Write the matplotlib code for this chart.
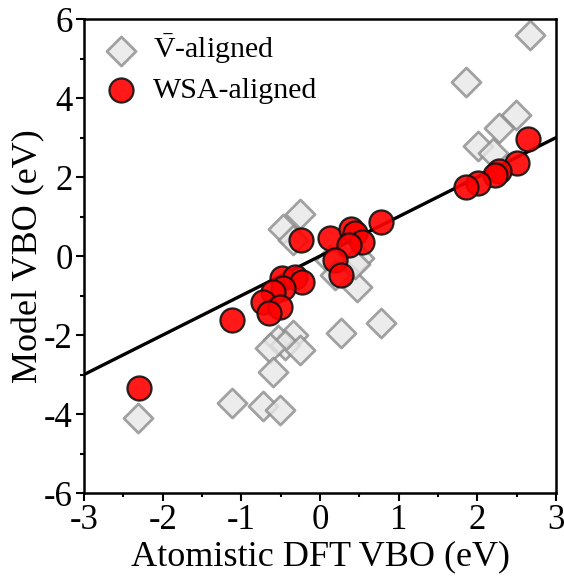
import numpy as np
import matplotlib.pyplot as plt

plt.rcParams['font.family'] = ['Liberation Serif', 'DejaVu Serif']
plt.rcParams['mathtext.fontset'] = 'custom'
plt.rcParams['mathtext.rm'] = 'Liberation Serif'

# V-bar aligned (grey diamonds)
vbar_x = [2.67, 1.86, 2.49, 2.27, 2.01, 2.20,
          -0.47, -0.25, -0.35, 0.13, 0.50, 0.19, 0.47, 0.45,
          0.27, -0.35, -0.53, -0.44, -0.64, -0.25, -0.60, -0.72, -0.51, -1.12, -2.31, 0.78]
vbar_y = [5.59, 4.41, 3.57, 3.24, 2.78, 2.60,
          0.68, 1.06, 0.40, -0.10, -0.05, -0.48, -0.78, -0.20,
          -1.95, -2.00, -2.12, -2.25, -2.33, -2.38, -2.94, -3.80, -3.90, -3.72, -4.10, -1.70]

# WSA aligned (red circles)
wsa_x = [-2.30, -1.12,
         -0.48, -0.32, -0.23, -0.47, -0.60, -0.72, -0.51, -0.65,
         -0.24, 0.12, 0.39, 0.45, 0.53, 0.37, 0.19, 0.27, 0.78,
         2.64, 2.50, 2.27, 2.22, 2.01, 1.85]
wsa_y = [-3.34, -1.62,
         -0.56, -0.53, -0.66, -0.81, -0.91, -1.16, -1.29, -1.44,
         0.41, 0.46, 0.68, 0.58, 0.36, 0.28, -0.10, -0.48, 0.87,
         2.96, 2.35, 2.15, 2.05, 1.85, 1.75]

fig = plt.figure(figsize=(5.64, 5.78), dpi=100)
ax = fig.add_axes([0.149, 0.147, 0.837, 0.820])

ax.scatter(vbar_x, vbar_y, marker='D', s=220, facecolor='#e8e8e8', edgecolor='#8c8c8c',
           linewidth=2, alpha=0.8, zorder=2, label=r'$\mathrm{\bar{V}}$-aligned')
line = np.array([-3, 3])
ax.plot(line, line, color='black', lw=2.4, zorder=3)
ax.scatter(wsa_x, wsa_y, marker='o', s=300, facecolor='#ff0000', edgecolor='#111111',
           linewidth=1.6, alpha=0.9, zorder=4, label='WSA-aligned')

ax.set_xlim(-3, 3)
ax.set_ylim(-6, 6)
ax.set_xticks(range(-3, 4))
ax.set_yticks(range(-6, 7, 2))
ax.set_xticklabels([str(v) for v in range(-3, 4)])
ax.set_yticklabels([str(v) for v in range(-6, 7, 2)])
ax.set_xticks(np.arange(-2.5, 3, 1), minor=True)
ax.set_yticks(range(-5, 6, 2), minor=True)
ax.tick_params(which='major', direction='out', length=6, width=1.5, labelsize=25, pad=2)
ax.tick_params(which='minor', direction='out', length=3, width=1.5)
for s in ax.spines.values():
    s.set_linewidth(1.8)

ax.set_xlabel('Atomistic DFT VBO (eV)', fontsize=26, labelpad=2)
ax.set_ylabel('Model VBO (eV)', fontsize=26, labelpad=-1)

ax.legend(loc='upper left', frameon=False, fontsize=21.5, handletextpad=0.25,
          borderaxespad=0.15, borderpad=0.3, labelspacing=0.35, handlelength=1.6)

fig.savefig('out.png', dpi=100)
